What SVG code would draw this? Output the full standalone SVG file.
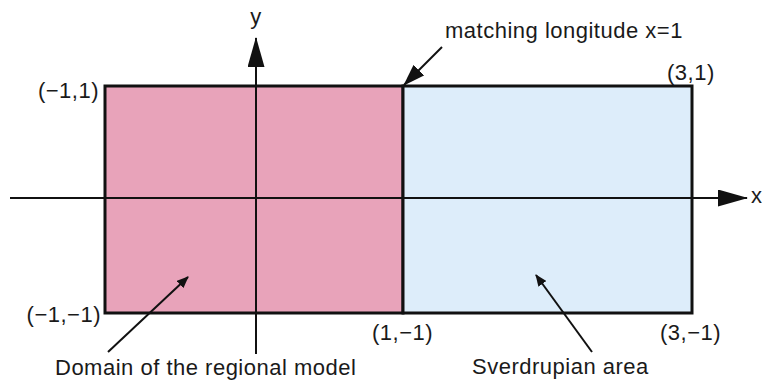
<svg xmlns="http://www.w3.org/2000/svg" width="762" height="380" viewBox="0 0 762 380">
<style>
text{font-family:"Liberation Sans",Arial,sans-serif;font-size:22px;letter-spacing:0.5px;fill:#1a1a1a}
.ln{stroke:#111;stroke-width:2;fill:none}
.bx{stroke:#111;stroke-width:3}
</style>
<defs>
<marker id="ah" markerWidth="12" markerHeight="10" refX="11" refY="5" orient="auto" markerUnits="userSpaceOnUse" viewBox="0 0 12 10"><path d="M0,0 L12,5 L0,10 Z" fill="#111"/></marker>
<marker id="ahm" markerWidth="22" markerHeight="15" refX="21" refY="7.5" orient="auto" markerUnits="userSpaceOnUse" viewBox="0 0 22 15"><path d="M0,0 L22,7.5 L0,15 Z" fill="#111"/></marker>
<marker id="ahb" markerWidth="30" markerHeight="17" refX="29" refY="8.5" orient="auto" markerUnits="userSpaceOnUse" viewBox="0 0 30 17"><path d="M0,0 L30,8.5 L0,17 Z" fill="#111"/></marker>
</defs>
<rect width="762" height="380" fill="#fff"/>
<g id="regional">
<rect class="bx" x="105" y="86" width="298" height="227" fill="#E8A3BA"/>
</g>
<g id="sverdrupian">
<rect class="bx" x="403" y="86" width="289" height="227" fill="#DDEDFA"/>
</g>
<g id="connectors">
<line class="ln" x1="10" y1="198" x2="747" y2="198" marker-end="url(#ahb)"/>
<line class="ln" x1="256" y1="354" x2="256" y2="38" marker-end="url(#ahb)"/>
<line class="ln" x1="442" y1="47" x2="404" y2="85" marker-end="url(#ahm)"/>
<line class="ln" x1="108" y1="352" x2="188" y2="277" marker-end="url(#ah)"/>
<line class="ln" x1="592" y1="352" x2="536" y2="275" marker-end="url(#ah)"/>
</g>
<g id="labels">
<text x="256" y="24" text-anchor="middle">y</text>
<text x="751" y="203">x</text>
<text x="99" y="98" text-anchor="end">(−1,1)</text>
<text x="667" y="80">(3,1)</text>
<text x="101" y="322" text-anchor="end">(−1,−1)</text>
<text x="372" y="340">(1,−1)</text>
<text x="660" y="340">(3,−1)</text>
<text x="445" y="38">matching longitude x=1</text>
<text x="55" y="375">Domain of the regional model</text>
<text x="472" y="374">Sverdrupian area</text>
</g>
</svg>
